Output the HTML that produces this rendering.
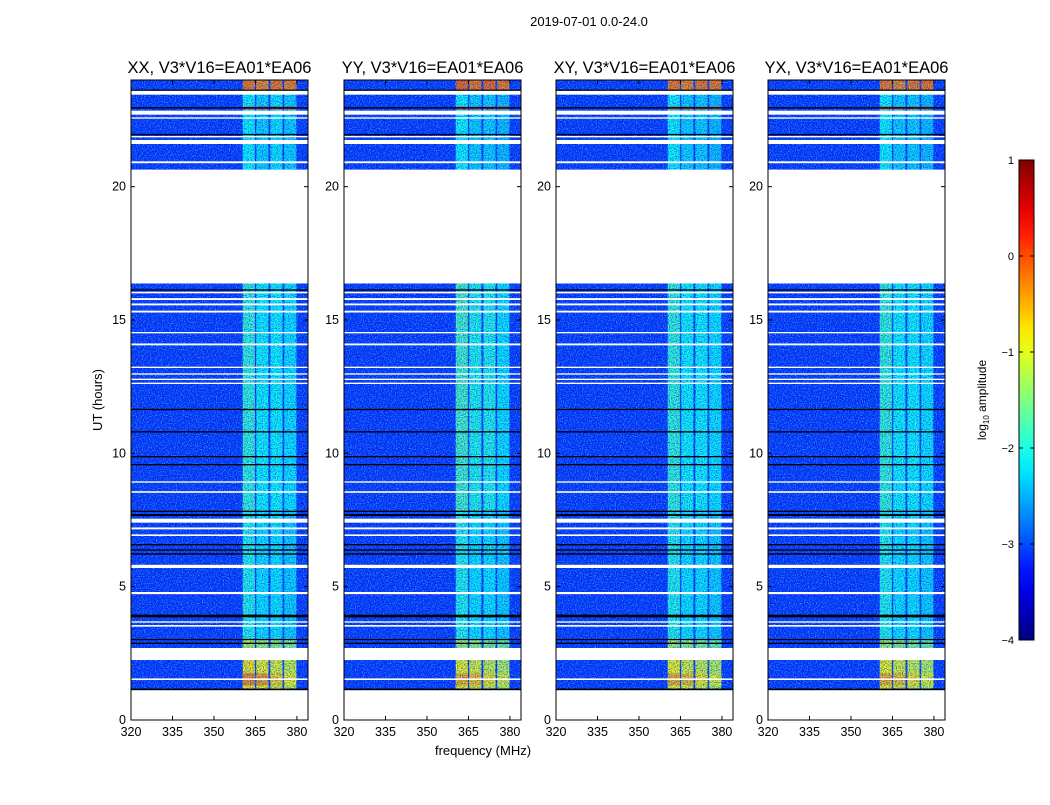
<!DOCTYPE html>
<html><head><meta charset="utf-8"><style>
body{margin:0;background:#fff;}
svg text{font-family:"Liberation Sans",sans-serif;fill:#000;}
</style></head><body>
<svg id="fig" width="1050" height="800" xmlns="http://www.w3.org/2000/svg">
<defs>
<filter id="speck" x="0" y="0" width="100%" height="100%">
<feTurbulence type="fractalNoise" baseFrequency="0.85" numOctaves="1" seed="3" result="t"/>
<feColorMatrix in="t" type="matrix" values="0 0 0 0 0.1  0 0 0 0 0.7  0 0 0 0 1  2.6 0 0 0 -1.15"/>
</filter>
<filter id="speckDark" x="0" y="0" width="100%" height="100%">
<feTurbulence type="fractalNoise" baseFrequency="0.85" numOctaves="1" seed="11" result="t"/>
<feColorMatrix in="t" type="matrix" values="0 0 0 0 0  0 0 0 0 0  0 0 0 0 0.55  2.6 0 0 0 -1.1"/>
</filter>
<linearGradient id="jet" x1="0" y1="1" x2="0" y2="0"></linearGradient>
</defs>
<text x="589" y="26" font-size="13" text-anchor="middle">2019-07-01 0.0-24.0</text>
<text x="0" y="0" font-size="13" text-anchor="middle" transform="translate(102,400) rotate(-90)">UT (hours)</text>
<text x="483" y="755" font-size="13" text-anchor="middle">frequency (MHz)</text>
<g id="panels"></g>
<g id="cbar"></g>
</svg>
<script>
const panelTitles=["XX, V3*V16=EA01*EA06","YY, V3*V16=EA01*EA06","XY, V3*V16=EA01*EA06","YX, V3*V16=EA01*EA06"];
const panelX=[131,344,556,768];
const xTicks=[320,335,350,365,380];
const yTicks=[0,5,10,15,20];
const cbTicks=[1,0,-1,-2,-3,-4];
const bandStart=[360.4,365.3,370.4,375.4];
const bandWidth=4.4;
const backgroundLevel=-3.1;
const segTimes=[[1.15,2.25],[1.3,1.75],[2.7,3.0],[3.0,7.8],[7.8,16.4],[20.6,23.6],[22.9,23.0],[23.6,24]];
const segLevels=[
[[-0.8,-0.9,-1.0,-1.1],[-0.3,-0.4,-0.7,-0.9],[-1.2,-1.3,-1.4,-1.5],[-2.0,-2.2,-2.2,-2.3],[-1.9,-2.1,-2.1,-2.2],[-2.1,-2.3,-2.2,-2.3],[0.3,0.3,0.3,0.3],[-0.2,-0.3,-0.2,-0.25]],
[[-0.9,-1.0,-1.1,-1.2],[-0.5,-0.6,-0.8,-1.0],[-1.3,-1.4,-1.5,-1.6],[-2.0,-2.2,-2.2,-2.3],[-1.8,-2.0,-2.0,-2.2],[-2.1,-2.3,-2.3,-2.4],[0.2,0.2,0.2,0.2],[-0.1,-0.2,-0.1,-0.2]],
[[-0.9,-1.0,-1.1,-1.2],[-0.5,-0.6,-0.8,-1.0],[-1.3,-1.4,-1.5,-1.6],[-2.0,-2.2,-2.2,-2.3],[-1.9,-2.1,-2.1,-2.2],[-2.1,-2.3,-2.3,-2.4],[0.2,0.2,0.2,0.2],[-0.2,-0.3,-0.2,-0.2]],
[[-0.9,-1.0,-1.1,-1.2],[-0.5,-0.6,-0.8,-1.0],[-1.3,-1.4,-1.5,-1.6],[-2.0,-2.2,-2.2,-2.3],[-1.9,-2.1,-2.1,-2.2],[-2.1,-2.3,-2.3,-2.4],[0.2,0.2,0.2,0.2],[-0.2,-0.3,-0.2,-0.2]]];
const whiteFlags=[[0,1.12],[1.5,1.56],[2.25,2.7],[3.5,3.56],[3.65,3.7],[4.72,4.8],[5.7,5.82],[6.9,6.96],[7.15,7.22],[7.4,7.55],[8.52,8.58],[8.9,8.95],[12.6,12.65],[12.75,12.8],[12.95,13.0],[13.2,13.25],[14.05,14.12],[14.5,14.55],[15.28,15.35],[15.55,15.62],[15.75,15.82],[16.0,16.06],[16.37,20.64],[20.88,20.95],[21.6,21.75],[21.85,21.9],[22.55,22.6],[22.7,22.85],[23.45,23.6]];
const blackFlags=[[1.12,1.18],[2.85,2.9],[3.0,3.04],[3.85,3.95],[6.2,6.25],[6.35,6.4],[6.55,6.6],[7.65,7.72],[7.8,7.85],[9.55,9.6],[9.85,9.9],[10.78,10.83],[11.62,11.67],[16.1,16.15],[21.93,21.98],[22.93,22.98],[23.6,23.64]];
const fMin=320,fMax=384,tMin=0,tMax=24,pw=177,plotTop=80,plotBot=720;
const NS="http://www.w3.org/2000/svg";
function mk(tag,attrs,parent){const e=document.createElementNS(NS,tag);for(const k in attrs)e.setAttribute(k,attrs[k]);parent.appendChild(e);return e;}
function yS(t){return plotBot-(t-tMin)/(tMax-tMin)*(plotBot-plotTop);}
function jet(v){const x=(v+4)/5;const r=Math.min(1,Math.max(0,Math.min(4*x-1.5,-4*x+4.5)));const g=Math.min(1,Math.max(0,Math.min(4*x-0.5,-4*x+3.5)));const b=Math.min(1,Math.max(0,Math.min(4*x+0.5,-4*x+2.5)));return `rgb(${Math.round(r*255)},${Math.round(g*255)},${Math.round(b*255)})`;}
const grad=document.getElementById('jet');
for(let i=0;i<=20;i++){mk('stop',{offset:i/20,'stop-color':jet(-4+5*i/20)},grad);}
const P=document.getElementById('panels');
panelX.forEach((x0,pi)=>{
  const xS=f=>x0+(f-fMin)/(fMax-fMin)*pw;
  const g=mk('g',{},P);
  
  
  const cp=mk('clipPath',{id:'cp'+pi},g);mk('rect',{x:x0,y:plotTop,width:pw,height:plotBot-plotTop},cp);
  const inner=mk('g',{'clip-path':'url(#cp'+pi+')'},g);
  const bg=mk('rect',{x:x0,y:plotTop,width:pw,height:plotBot-plotTop,fill:jet(backgroundLevel)},inner);
  
  
  segTimes.forEach((s,si)=>{
    bandStart.forEach((fs,bi)=>{
      const r=mk('rect',{x:xS(fs),y:yS(s[1]),width:xS(fs+bandWidth)-xS(fs),height:yS(s[0])-yS(s[1]),fill:jet(segLevels[pi][si][bi])},inner);
      
      
    });
  });
  mk('rect',{x:x0,y:plotTop,width:pw,height:plotBot-plotTop,fill:'#000',filter:'url(#speck)',opacity:0.8},inner);
  mk('rect',{x:x0,y:plotTop,width:pw,height:plotBot-plotTop,fill:'#000',filter:'url(#speckDark)',opacity:0.7},inner);
  whiteFlags.forEach(w=>{const r=mk('rect',{x:x0,y:yS(w[1]),width:pw,height:Math.max(1.2,yS(w[0])-yS(w[1])),fill:'#fff'},inner);
    
    });
  blackFlags.forEach(w=>{const r=mk('rect',{x:x0,y:yS(w[1]),width:pw,height:Math.max(1.2,yS(w[0])-yS(w[1])),fill:'#000'},inner);
    
    });
  mk('rect',{x:x0,y:plotTop,width:pw,height:plotBot-plotTop,fill:'none',stroke:'#000','stroke-width':1},g);
  xTicks.forEach(f=>{const x=xS(f);
    mk('line',{x1:x,x2:x,y1:plotBot,y2:plotBot-4,stroke:'#000'},g);mk('line',{x1:x,x2:x,y1:plotTop,y2:plotTop+4,stroke:'#000'},g);
    const t=mk('text',{x:x,y:plotBot+16,'font-size':12.5,'text-anchor':'middle'},g);t.textContent=f;
    
    });
  yTicks.forEach(v=>{const y=yS(v);
    mk('line',{x1:x0,x2:x0+4,y1:y,y2:y,stroke:'#000'},g);mk('line',{x1:x0+pw,x2:x0+pw-4,y1:y,y2:y,stroke:'#000'},g);
    const t=mk('text',{x:x0-5,y:y+4,'font-size':12.5,'text-anchor':'end'},g);t.textContent=v;
    
    });
  const tt=mk('text',{x:x0+pw/2,y:73,'font-size':16.5,'text-anchor':'middle'},g);tt.textContent=panelTitles[pi];
  
  
});
const C=document.getElementById('cbar');


const cbT=160,cbB=640,cbX=1019,cbW=15;
const cy=v=>cbB-(v+4)/5*(cbB-cbT);
mk('rect',{x:cbX,y:cbT,width:cbW,height:cbB-cbT,fill:'url(#jet)',stroke:'#000'},C);
cbTicks.forEach(v=>{const y=cy(v);
  mk('line',{x1:cbX,x2:cbX+4,y1:y,y2:y,stroke:'#000'},C);mk('line',{x1:cbX+cbW,x2:cbX+cbW-4,y1:y,y2:y,stroke:'#000'},C);
  const t=mk('text',{x:cbX-5,y:y+4,'font-size':11,'text-anchor':'end'},C);t.textContent=(v<0?'\u2212'+(-v):v);
  
  });
const cl=mk('text',{transform:'translate(986,400) rotate(-90)','font-size':12,'text-anchor':'middle'},C);


cl.innerHTML='log<tspan font-size="8" dy="3">10</tspan><tspan dy="-3"> amplitude</tspan>';
</script>
</body></html>
